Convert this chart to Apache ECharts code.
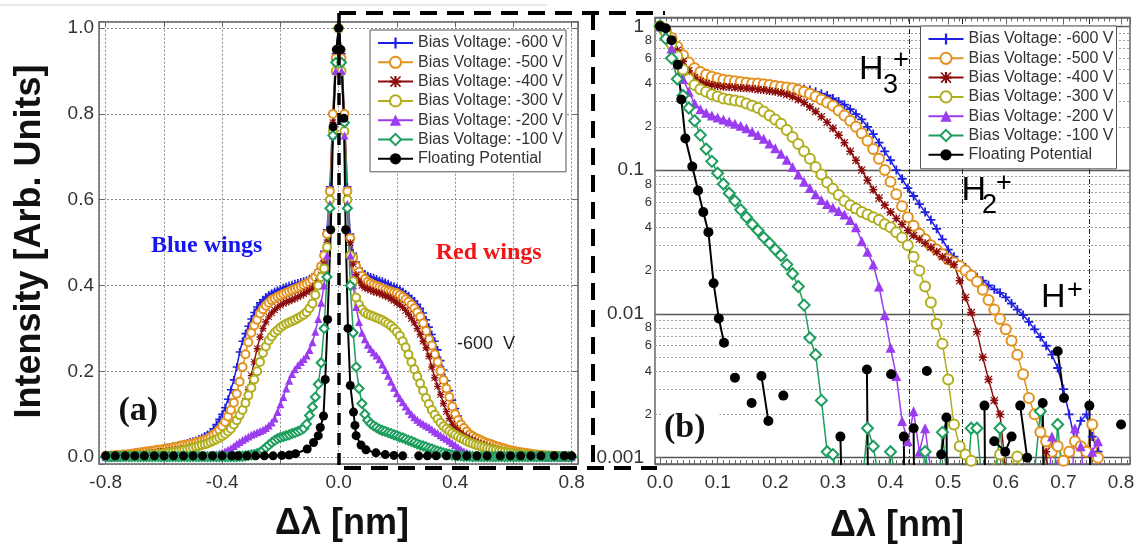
<!DOCTYPE html>
<html><head><meta charset="utf-8">
<script src="https://cdn.jsdelivr.net/npm/echarts@6/dist/echarts.min.js"></script>
<style>html,body{margin:0;padding:0;background:#fff}#c{width:1143px;height:549px}</style>
</head><body><div id="c"></div>
<script>
// ---------------- DATA ----------------
const seriesNames = ['Bias Voltage: -600 V','Bias Voltage: -500 V','Bias Voltage: -400 V','Bias Voltage: -300 V','Bias Voltage: -200 V','Bias Voltage: -100 V','Floating Potential'];

// panel (a): wavelength shift grid, nm
const xA = [
-0.80,-0.79,-0.78,-0.77,-0.76,-0.75,-0.74,-0.73,-0.72,-0.71,
-0.70,-0.69,-0.68,-0.67,-0.66,-0.65,-0.64,-0.63,-0.62,-0.61,
-0.60,-0.59,-0.58,-0.57,-0.56,-0.55,-0.54,-0.53,-0.52,-0.51,
-0.50,-0.49,-0.48,-0.47,-0.46,-0.45,-0.44,-0.43,-0.42,-0.41,
-0.40,-0.39,-0.38,-0.37,-0.36,-0.35,-0.34,-0.33,-0.32,-0.31,
-0.30,-0.29,-0.28,-0.27,-0.26,-0.25,-0.24,-0.23,-0.22,-0.21,
-0.20,-0.19,-0.18,-0.17,-0.16,-0.15,-0.14,-0.13,-0.12,-0.11,
-0.10,-0.09,-0.08,-0.07,-0.06,-0.05,-0.04,-0.03,-0.02,-0.01,
0,
0.01,0.02,0.03,0.04,0.05,0.06,0.07,0.08,0.09,0.10,
0.11,0.12,0.13,0.14,0.15,0.16,0.17,0.18,0.19,0.20,
0.21,0.22,0.23,0.24,0.25,0.26,0.27,0.28,0.29,0.30,
0.31,0.32,0.33,0.34,0.35,0.36,0.37,0.38,0.39,0.40,
0.41,0.42,0.43,0.44,0.45,0.46,0.47,0.48,0.49,0.50,
0.51,0.52,0.53,0.54,0.55,0.56,0.57,0.58,0.59,0.60,
0.61,0.62,0.63,0.64,0.65,0.66,0.67,0.68,0.69,0.70,
0.71,0.72,0.73,0.74,0.75,0.76,0.77,0.78,0.79,0.80];

const aV600 = [
0.004,0.004,0.005,0.005,0.006,0.006,0.007,0.007,0.008,0.009,
0.010,0.011,0.012,0.013,0.014,0.015,0.016,0.017,0.018,0.019,
0.021,0.022,0.023,0.025,0.026,0.028,0.029,0.031,0.033,0.035,
0.037,0.039,0.042,0.045,0.049,0.053,0.058,0.066,0.076,0.088,
0.100,0.115,0.135,0.157,0.180,0.210,0.245,0.270,0.288,0.305,
0.322,0.337,0.350,0.360,0.367,0.373,0.378,0.382,0.386,0.389,
0.392,0.395,0.397,0.400,0.402,0.404,0.406,0.408,0.410,0.412,
0.416,0.420,0.427,0.435,0.450,0.480,0.530,0.630,0.800,0.940,
1.0,
0.94,0.80,0.63,0.52,0.475,0.455,0.44,0.432,0.427,0.423,
0.42,0.418,0.415,0.412,0.41,0.407,0.404,0.40,0.398,0.395,
0.391,0.386,0.381,0.376,0.37,0.364,0.356,0.347,0.336,0.32,
0.303,0.286,0.27,0.25,0.225,0.203,0.178,0.155,0.133,0.113,
0.096,0.082,0.071,0.062,0.054,0.048,0.043,0.039,0.035,0.032,
0.029,0.027,0.025,0.023,0.021,0.019,0.018,0.016,0.015,0.014,
0.013,0.012,0.011,0.010,0.009,0.008,0.007,0.007,0.006,0.006,
0.005,0.005,0.004,0.004,0.004,0.003,0.003,0.003,0.002,0.002];

const aV500 = [
0.003,0.003,0.004,0.004,0.005,0.005,0.006,0.006,0.007,0.008,
0.009,0.010,0.011,0.012,0.013,0.014,0.015,0.016,0.017,0.018,
0.019,0.020,0.021,0.022,0.024,0.025,0.027,0.028,0.029,0.031,
0.032,0.034,0.036,0.038,0.040,0.043,0.047,0.052,0.057,0.064,
0.072,0.082,0.095,0.110,0.127,0.148,0.176,0.210,0.240,0.268,
0.290,0.307,0.320,0.335,0.345,0.353,0.360,0.366,0.370,0.374,
0.377,0.380,0.383,0.386,0.389,0.392,0.395,0.398,0.401,0.404,
0.408,0.413,0.420,0.430,0.445,0.470,0.520,0.620,0.800,0.930,
1.0,
0.93,0.80,0.62,0.51,0.465,0.445,0.432,0.422,0.415,0.409,
0.405,0.402,0.399,0.396,0.393,0.39,0.388,0.386,0.384,0.382,
0.378,0.373,0.368,0.362,0.355,0.347,0.338,0.327,0.312,0.294,
0.275,0.26,0.24,0.222,0.201,0.18,0.16,0.14,0.118,0.10,
0.086,0.076,0.068,0.06,0.053,0.049,0.045,0.042,0.039,0.036,
0.033,0.031,0.028,0.026,0.024,0.022,0.02,0.018,0.016,0.015,
0.013,0.012,0.011,0.010,0.009,0.008,0.007,0.006,0.005,0.005,
0.004,0.004,0.003,0.003,0.003,0.002,0.002,0.002,0.002,0.001];

const aV400 = [
0.002,0.002,0.003,0.003,0.003,0.004,0.004,0.005,0.005,0.006,
0.006,0.007,0.007,0.008,0.009,0.009,0.010,0.011,0.012,0.013,
0.013,0.014,0.015,0.016,0.017,0.018,0.019,0.020,0.021,0.023,
0.024,0.026,0.027,0.029,0.031,0.033,0.036,0.039,0.042,0.046,
0.050,0.055,0.061,0.068,0.075,0.085,0.097,0.110,0.130,0.157,
0.190,0.222,0.253,0.280,0.300,0.315,0.327,0.336,0.343,0.349,
0.354,0.358,0.361,0.364,0.367,0.370,0.373,0.377,0.381,0.385,
0.389,0.394,0.400,0.410,0.425,0.450,0.500,0.600,0.780,0.920,
1.0,
0.92,0.78,0.60,0.50,0.45,0.425,0.41,0.40,0.395,0.392,
0.389,0.386,0.384,0.382,0.379,0.376,0.373,0.369,0.365,0.36,
0.355,0.349,0.342,0.333,0.323,0.313,0.30,0.286,0.27,0.255,
0.235,0.21,0.185,0.165,0.146,0.125,0.106,0.09,0.077,0.068,
0.061,0.055,0.05,0.046,0.042,0.039,0.036,0.033,0.03,0.028,
0.025,0.023,0.021,0.019,0.017,0.015,0.013,0.012,0.011,0.01,
0.009,0.008,0.007,0.006,0.006,0.005,0.005,0.004,0.004,0.003,
0.003,0.003,0.002,0.002,0.002,0.002,0.001,0.001,0.001,0.001];

const aV300 = [
0.001,0.001,0.001,0.002,0.002,0.002,0.002,0.003,0.003,0.003,
0.004,0.004,0.004,0.005,0.005,0.006,0.006,0.007,0.008,0.008,
0.009,0.010,0.011,0.012,0.013,0.014,0.015,0.017,0.018,0.020,
0.022,0.024,0.026,0.028,0.030,0.032,0.035,0.038,0.041,0.045,
0.049,0.054,0.060,0.066,0.076,0.086,0.098,0.110,0.126,0.144,
0.162,0.181,0.200,0.222,0.243,0.258,0.272,0.281,0.290,0.296,
0.302,0.307,0.311,0.314,0.317,0.320,0.324,0.328,0.332,0.338,
0.347,0.358,0.378,0.400,0.420,0.440,0.490,0.600,0.760,0.900,
1.0,
0.90,0.76,0.60,0.47,0.41,0.372,0.355,0.344,0.337,0.333,
0.33,0.328,0.325,0.322,0.319,0.315,0.311,0.306,0.30,0.292,
0.283,0.27,0.256,0.239,0.222,0.205,0.188,0.172,0.155,0.138,
0.124,0.11,0.099,0.089,0.08,0.072,0.066,0.061,0.056,0.052,
0.048,0.044,0.041,0.037,0.034,0.032,0.029,0.027,0.025,0.023,
0.021,0.019,0.017,0.016,0.014,0.013,0.012,0.011,0.01,0.009,
0.008,0.007,0.007,0.006,0.005,0.005,0.004,0.004,0.003,0.003,
0.003,0.002,0.002,0.002,0.002,0.001,0.001,0.001,0.001,0.001];

const aV200 = [
0,0,0,0,0,0.001,0.001,0.001,0.001,0.001,
0.001,0.001,0.001,0.001,0.001,0.001,0.001,0.001,0.001,0.001,
0.001,0.001,0.001,0.002,0.002,0.002,0.002,0.002,0.002,0.002,
0.003,0.003,0.003,0.003,0.004,0.004,0.005,0.006,0.007,0.009,
0.011,0.014,0.017,0.021,0.026,0.031,0.035,0.040,0.044,0.048,
0.052,0.055,0.058,0.061,0.064,0.068,0.074,0.081,0.090,0.105,
0.123,0.140,0.160,0.178,0.194,0.205,0.214,0.222,0.229,0.237,
0.250,0.268,0.292,0.322,0.360,0.400,0.470,0.590,0.750,0.900,
1.0,
0.90,0.75,0.59,0.47,0.40,0.35,0.315,0.29,0.275,0.262,
0.252,0.244,0.237,0.228,0.216,0.203,0.19,0.176,0.162,0.149,
0.138,0.128,0.118,0.108,0.10,0.093,0.087,0.082,0.078,0.074,
0.07,0.065,0.06,0.056,0.051,0.047,0.043,0.038,0.033,0.028,
0.023,0.018,0.014,0.011,0.008,0.006,0.005,0.004,0.003,0.003,
0.002,0.002,0.002,0.002,0.001,0.001,0.001,0.001,0.001,0.001,
0.001,0.001,0.001,0.001,0.001,0.001,0.001,0.001,0.001,0.001,
0,0,0,0,0,0,0,0,0,0];

const aV100 = [
0.001,0.001,0.001,0.001,0.001,0.001,0.001,0.001,0.001,0.001,
0.001,0.001,0.001,0.001,0.001,0.001,0.001,0.001,0.001,0.001,
0.001,0.001,0.001,0.001,0.001,0.001,0.001,0.001,0.001,0.001,
0.001,0.001,0.001,0.001,0.001,0.001,0.001,0.001,0.001,0.001,
0.001,0.001,0.001,0.001,0.001,0.001,0.002,0.002,0.003,0.004,
0.005,0.006,0.008,0.011,0.016,0.022,0.028,0.034,0.039,0.043,
0.046,0.048,0.050,0.052,0.055,0.057,0.060,0.063,0.067,0.077,
0.097,0.117,0.140,0.170,0.220,0.300,0.420,0.580,0.750,0.920,
1.0,
0.92,0.78,0.58,0.40,0.29,0.21,0.16,0.125,0.10,0.086,
0.078,0.073,0.069,0.065,0.062,0.06,0.057,0.055,0.052,0.05,
0.047,0.045,0.042,0.039,0.037,0.034,0.031,0.028,0.026,0.024,
0.021,0.019,0.016,0.014,0.012,0.01,0.008,0.007,0.005,0.004,
0.003,0.003,0.002,0.002,0.002,0.001,0.001,0.001,0.001,0.001,
0.001,0.001,0.001,0.001,0.001,0.001,0.001,0.001,0.001,0.001,
0.001,0.001,0.001,0.001,0.001,0.001,0.001,0.001,0.001,0.001,
0.001,0.001,0.001,0.001,0.001,0.001,0.001,0.001,0.001,0.001];

const xFloatA = [-0.80,-0.767,-0.733,-0.70,-0.667,-0.633,-0.60,-0.567,-0.533,-0.50,-0.467,-0.433,-0.40,-0.367,-0.345,-0.33,-0.315,-0.285,-0.255,-0.225,-0.195,-0.17,-0.148,-0.108,-0.086,-0.07,-0.063,-0.052,-0.046,-0.038,-0.027,-0.019,-0.008,0,0.008,0.018,0.024,0.032,0.04,0.051,0.056,0.06,0.077,0.094,0.128,0.16,0.19,0.22,0.25,0.275,0.305,0.335,0.37,0.405,0.44,0.475,0.51,0.53,0.555,0.59,0.625,0.66,0.695,0.715,0.74,0.775,0.80];
const yFloatA = [0.003,0.003,0.003,0.003,0.003,0.003,0.003,0.003,0.003,0.003,0.003,0.003,0.003,0.003,0.003,null,0.003,0.003,0.003,0.003,0.004,0.005,0.008,0.019,0.034,0.05,0.069,0.096,0.181,0.321,0.53,0.77,0.95,1.0,0.95,0.79,0.53,0.30,0.167,0.105,0.074,0.05,0.028,0.017,0.01,0.006,0.004,0.003,null,0.003,0.003,0.003,0.003,0.003,0.003,0.003,0.003,null,0.003,0.003,0.003,0.003,0.003,null,0.003,0.003,0.003];

// panel (b): red wing on log scale
const xB = [0,
0.01,0.02,0.03,0.04,0.05,0.06,0.07,0.08,0.09,0.10,
0.11,0.12,0.13,0.14,0.15,0.16,0.17,0.18,0.19,0.20,
0.21,0.22,0.23,0.24,0.25,0.26,0.27,0.28,0.29,0.30,
0.31,0.32,0.33,0.34,0.35,0.36,0.37,0.38,0.39,0.40,
0.41,0.42,0.43,0.44,0.45,0.46,0.47,0.48,0.49,0.50,
0.51,0.52,0.53,0.54,0.55,0.56,0.57,0.58,0.59,0.60,
0.61,0.62,0.63,0.64,0.65,0.66,0.67,0.68,0.69,0.70,
0.71,0.72,0.73,0.74,0.75,0.76,0.77,0.78,0.79,0.80];

const bV600 = [
1.0,0.93,0.84,0.73,0.63,0.55,0.50,0.47,0.45,0.44,
0.43,0.425,0.42,0.415,0.41,0.41,0.405,0.40,0.40,0.395,
0.39,0.385,0.38,0.375,0.37,0.365,0.36,0.35,0.34,0.33,
0.315,0.30,0.285,0.265,0.245,0.225,0.20,0.178,0.155,0.135,
0.117,0.10,0.087,0.075,0.066,0.058,0.051,0.045,0.039,0.033,
0.028,0.025,0.022,0.021,0.019,0.018,0.017,0.0158,0.0148,0.014,
0.013,0.0118,0.0107,0.0098,0.0088,0.0078,0.0069,0.006,0.0052,0.0042,
0.003,0.002,0.0013,0.0018,0.002,0.0014,0.0011,0.0006,0.0004,0.0003,
0.0002];

const bV500 = [
1.0,0.93,0.83,0.72,0.63,0.56,0.51,0.48,0.46,0.445,
0.435,0.425,0.42,0.415,0.41,0.405,0.40,0.40,0.395,0.39,
0.385,0.38,0.375,0.37,0.36,0.35,0.34,0.325,0.31,0.295,
0.28,0.26,0.24,0.22,0.20,0.18,0.16,0.14,0.12,0.10,
0.083,0.068,0.056,0.047,0.041,0.036,0.033,0.030,0.028,0.026,
0.024,0.0228,0.0215,0.020,0.0185,0.0168,0.0147,0.0125,0.0107,0.0092,
0.0078,0.0065,0.0052,0.0038,0.0026,0.002,0.0015,0.0013,0.0011,0.0012,
0.00095,0.0011,0.0013,0.0012,0.0011,0.0017,0.001,0.0005,0.0003,0.0002,
0.0002];

const bV400 = [
1.0,0.92,0.80,0.68,0.57,0.49,0.44,0.415,0.40,0.39,
0.385,0.38,0.378,0.375,0.372,0.37,0.367,0.363,0.36,0.355,
0.35,0.343,0.335,0.325,0.31,0.295,0.275,0.255,0.235,0.215,
0.195,0.175,0.155,0.135,0.117,0.10,0.085,0.073,0.064,0.057,
0.051,0.046,0.042,0.038,0.035,0.033,0.031,0.029,0.027,0.025,
0.0235,0.022,0.017,0.013,0.0102,0.0075,0.005,0.0035,0.0025,0.002,
0.0008,0.0005,0.0004,0.0004,0.0003,0.0004,0.0006,0.0011,0.0004,0.0003,
0.0003,0.0003,0.0003,0.0003,0.0003,0.0003,0.0003,0.0003,0.0003,0.0003,
0.0003];

const bV300 = [
1.0,0.90,0.76,0.62,0.50,0.43,0.39,0.365,0.35,0.335,
0.325,0.315,0.31,0.305,0.30,0.29,0.28,0.27,0.255,0.24,
0.225,0.21,0.19,0.17,0.152,0.135,0.12,0.105,0.093,0.082,
0.074,0.067,0.061,0.057,0.054,0.051,0.049,0.047,0.045,0.042,
0.04,0.037,0.034,0.03,0.025,0.02,0.0155,0.012,0.0085,0.0062,
0.0035,0.0017,0.0012,0.00105,0.00095,0.0008,0.0006,0.0007,0.0009,0.00105,
0.0008,0.0009,0.00102,0.0006,0.0003,0.0003,0.0003,0.0003,0.0003,0.0003,
0.0003,0.0003,0.0003,0.0003,0.0003,0.0003,0.0003,0.0003,0.0003,0.0003,
0.0003];

const bV200 = [
1.0,0.88,0.70,0.55,0.43,0.35,0.29,0.265,0.25,0.24,
0.232,0.225,0.218,0.21,0.203,0.195,0.185,0.175,0.165,0.153,
0.142,0.13,0.118,0.105,0.093,0.083,0.075,0.068,0.062,0.058,
0.055,0.052,0.049,0.045,0.04,0.032,0.027,0.022,0.0155,0.0098,
0.0058,0.0037,0.0018,0.0013,0.0021,0.0011,0.0016,0.0008,0.0005,0.0003,
0.0003,0.0003,0.0003,0.0003,0.0003,0.0003,0.0003,0.0003,0.0003,0.0003,
0.0003,0.0003,0.0003,0.0003,0.0003,0.0003,0.0003,0.0003,0.0014,0.0008,
0.0003,0.0003,0.0016,0.0012,0.0005,0.0011,0.0013,0.0005,0.0003,0.0003,
0.0003];

const bV100 = [
1.0,0.82,0.60,0.43,0.33,0.27,0.22,0.175,0.14,0.115,
0.095,0.08,0.069,0.061,0.053,0.047,0.042,0.038,0.034,0.031,
0.028,0.0255,0.022,0.019,0.0155,0.0115,0.0068,0.0052,0.0025,0.0011,
0.00105,0.0006,0.0004,0.0003,0.0004,0.0006,0.0016,0.0012,0.0007,0.0005,
0.0011,0.0007,0.0004,0.0003,0.0004,0.0005,0.0011,0.0006,0.0004,0.0015,
0.0006,0.0004,0.0003,0.0004,0.0016,0.0016,0.0006,0.0004,0.0006,0.0016,
0.0006,0.0004,0.0003,0.0004,0.0006,0.0008,0.0021,0.0006,0.0004,0.0017,
0.0006,0.0003,0.0003,0.0003,0.0003,0.0003,0.0003,0.0003,0.0003,0.0003,
0.0003];

const xFloatB = [0,0.01,0.02,0.031,0.037,0.044,0.056,0.066,0.075,0.084,0.093,0.102,0.111,0.12,0.13,0.14,0.159,0.165,0.176,0.188,0.2,0.214,0.22,0.313,0.318,0.33,0.359,0.362,0.38,0.401,0.41,0.423,0.425,0.43,0.44,0.442,0.45,0.463,0.47,0.488,0.497,0.499,0.53,0.563,0.565,0.572,0.58,0.599,0.61,0.615,0.625,0.637,0.645,0.664,0.667,0.68,0.69,0.701,0.71,0.745,0.748,0.76,0.80];
const yFloatB = [1.0,0.97,0.80,0.54,0.31,0.166,0.106,0.072,0.051,0.037,0.0163,0.0093,0.0063,null,0.0036,null,0.0024,null,0.0037,0.0018,null,0.0027,null,0.0014,0.0002,null,0.0041,0.0002,null,0.0038,null,0.0014,0.0002,null,0.0016,0.0002,null,0.004,null,0.00105,0.0019,0.0002,null,0.0023,0.0002,null,0.0013,0.0011,0.0014,null,0.0023,0.001,null,0.0024,0.0002,null,0.0055,0.0026,null,0.0023,0.0002,null,0.0017];

// log minor grid values and their labels; ion-energy marker positions (nm)
const minorLogValues = [0.002,0.003,0.004,0.005,0.006,0.007,0.008,0.009,0.02,0.03,0.04,0.05,0.06,0.07,0.08,0.09,0.2,0.3,0.4,0.5,0.6,0.7,0.8,0.9];
const minorLogLabels = ['2','','4','','6','','8','','2','','4','','6','','8','','2','','4','','6','','8',''];
const ionLines = [0.433, 0.524, 0.745];

// ---------------- CHART ----------------
const aSets = [aV600, aV500, aV400, aV300, aV200, aV100];
const bSets = [bV600, bV500, bV400, bV300, bV200, bV100];
aSets.forEach((a, i) => { if (a.length !== xA.length) throw new Error('aSet ' + i + ' length ' + a.length); });
bSets.forEach((b, i) => { if (b.length !== xB.length) throw new Error('bSet ' + i + ' length ' + b.length); });
if (xFloatA.length !== yFloatA.length) throw new Error('floatA ' + xFloatA.length + ' ' + yFloatA.length);
if (xFloatB.length !== yFloatB.length) throw new Error('floatB ' + xFloatB.length + ' ' + yFloatB.length);

const FONT = 'Liberation Sans, Arial, sans-serif';
const SERIF = 'Liberation Serif, Times New Roman, serif';
const colors = ['#1f1fe0', '#e3921f', '#8c0c0c', '#b0ae1e', '#9a3cf0', '#1e9e5e', '#000000'];
const PLUS = 'path://M4,0h2v4h4v2h-4v4h-2v-4h-4v-2h4z';
const STAR = 'path://M4,0h2v4h4v2h-4v4h-2v-4h-4v-2h4z M1,0L5,4L9,0L10,1L6,5L10,9L9,10L5,6L1,10L0,9L4,5L0,1Z';
const symbols = [PLUS, 'emptyCircle', STAR, 'emptyCircle', 'triangle', 'emptyDiamond', 'circle'];
const borderW = [0, 1.3, 0, 1.3, 0, 1.3, 0];
const symA = [8, 8, 7, 8, 8, 9, 9];
const symB = [9, 10, 8, 10, 10, 11, 10];

function mk(i, xs, ys, xi, yi, size) {
  return {
    name: seriesNames[i], type: 'line', xAxisIndex: xi, yAxisIndex: yi,
    data: xs.map((x, k) => [x, ys[k]]),
    symbol: symbols[i], symbolSize: size, showSymbol: true, showAllSymbol: true,
    color: colors[i], connectNulls: false, clip: true,
    lineStyle: { color: colors[i], width: i === 6 ? 2 : 1.5 },
    itemStyle: { color: colors[i], borderColor: colors[i], borderWidth: borderW[i] },
    silent: true, animation: false, emphasis: { disabled: true }
  };
}
const series = [];
for (let i = 0; i < 6; i++) series.push(mk(i, xA, aSets[i], 0, 0, symA[i]));
series.push(mk(6, xFloatA, yFloatA, 0, 0, symA[6]));
// guide lines for (b)
series.push({
  type: 'line', name: 'minorGrid', xAxisIndex: 2, yAxisIndex: 2, data: [], z: 1, silent: true, clip: false, animation: false,
  markLine: {
    silent: true, symbol: ['none', 'none'], animation: false, precision: 8, z: 1,
    lineStyle: { color: '#a0a0a0', type: [2, 2], width: 1 },
    data: minorLogValues.map((v, k) => ({
      yAxis: v,
      label: minorLogLabels[k] ? { show: true, position: 'start', formatter: minorLogLabels[k], fontSize: 13, color: '#333', fontFamily: FONT, distance: 3 } : { show: false }
    }))
  }
});
series.push({
  type: 'line', name: 'ionLines', xAxisIndex: 2, yAxisIndex: 2, data: [], z: 1, silent: true, clip: false, animation: false,
  markLine: {
    silent: true, symbol: ['none', 'none'], animation: false, precision: 8, z: 1,
    lineStyle: { color: '#222', type: [5, 2, 1, 2], width: 1 },
    label: { show: false },
    data: ionLines.map(v => ({ xAxis: v }))
  }
});
for (let i = 0; i < 6; i++) series.push(mk(i, xB, bSets[i], 2, 2, symB[i]));
series.push(mk(6, xFloatB, yFloatB, 2, 2, symB[6]));

function isMult(v, step) { const r = v / step; return Math.abs(r - Math.round(r)) < 1e-6; }
function fixed1(v) { return Math.abs(v) < 1e-9 ? '0.0' : v.toFixed(1); }

const frameLine = { show: true, onZero: false, lineStyle: { color: '#666', width: 1.5 } };
const tickIn = (len) => ({ show: true, inside: true, length: len, lineStyle: { color: '#666', width: 1 } });
const labelStyle = { fontSize: 19, color: '#333', fontFamily: FONT };
const dotted = { show: true, lineStyle: { color: '#8a8a8a', type: [2, 2], width: 1 } };

const legendBase = {
  orient: 'vertical', itemWidth: 35, itemHeight: 14, itemGap: 3.3, z: 10,
  backgroundColor: '#fff', borderColor: '#555', borderWidth: 1, borderRadius: 0,
  textStyle: { fontSize: 16, color: '#333', fontFamily: FONT, lineHeight: 16 },
  selectedMode: false, data: seriesNames
};

const dash = { stroke: '#000', lineWidth: 4, lineDash: [17, 10] };
const txt = (x, y, text, o) => ({ type: 'text', x, y, z: 100, style: Object.assign({ text, fill: '#111', textAlign: 'center', textVerticalAlign: 'middle', align: 'center', verticalAlign: 'middle' }, o) });

const option = {
  backgroundColor: '#fff',
  animation: false,
  grid: [
    { left: 99, top: 21.7, width: 479, height: 442.3, outerBoundsMode: 'none', containLabel: false },
    { left: 655, top: 17.5, width: 475, height: 446.5, outerBoundsMode: 'none', containLabel: false }
  ],
  xAxis: [
    { gridIndex: 0, type: 'value', min: -0.823, max: 0.822, splitNumber: 8, position: 'bottom',
      axisLine: frameLine, axisTick: tickIn(5),
      axisLabel: Object.assign({ margin: 9, formatter: v => isMult(v, 0.4) ? fixed1(v) : '' }, labelStyle),
      splitLine: dotted },
    { gridIndex: 0, type: 'value', min: -0.823, max: 0.822, splitNumber: 8, position: 'top',
      axisLine: frameLine, axisTick: tickIn(5), axisLabel: { show: false }, splitLine: { show: false } },
    { gridIndex: 1, type: 'value', min: -0.0087, max: 0.8155, splitNumber: 8, position: 'bottom',
      axisLine: frameLine, axisTick: tickIn(7),
      minorTick: { show: true, splitNumber: 10, length: 4, lineStyle: { color: '#666' } },
      axisLabel: Object.assign({ margin: 9, formatter: v => isMult(v, 0.1) ? fixed1(v) : '' }, labelStyle),
      splitLine: { show: false } },
    { gridIndex: 1, type: 'value', min: -0.0087, max: 0.8155, splitNumber: 8, position: 'top',
      axisLine: frameLine, axisTick: tickIn(7),
      minorTick: { show: true, splitNumber: 10, length: 4, lineStyle: { color: '#666' } },
      axisLabel: { show: false }, splitLine: { show: false } }
  ],
  yAxis: [
    { gridIndex: 0, type: 'value', min: -0.016, max: 1.015, splitNumber: 5, position: 'left',
      axisLine: frameLine, axisTick: tickIn(5),
      axisLabel: Object.assign({ margin: 5, formatter: v => isMult(v, 0.2) ? fixed1(v) : '' }, labelStyle),
      splitLine: dotted },
    { gridIndex: 0, type: 'value', min: -0.016, max: 1.015, splitNumber: 5, position: 'right',
      axisLine: frameLine, axisTick: tickIn(5), axisLabel: { show: false }, splitLine: { show: false } },
    { gridIndex: 1, type: 'log', logBase: 10, min: 0.000903, max: 1.151, position: 'left',
      axisLine: frameLine, axisTick: tickIn(7),
      axisLabel: Object.assign({ margin: 11, formatter: v => { const l = Math.log10(v); return Math.abs(l - Math.round(l)) < 1e-6 ? String(+v.toPrecision(3)) : ''; } }, labelStyle),
      splitLine: { show: true, lineStyle: { color: '#555', width: 1.4 } } },
    { gridIndex: 1, type: 'log', logBase: 10, min: 0.000903, max: 1.151, position: 'right',
      axisLine: frameLine, axisTick: tickIn(7), axisLabel: { show: false }, splitLine: { show: false } }
  ],
  legend: [
    Object.assign({ left: 370, top: 30, padding: [5, 3, 5, 7] }, legendBase),
    Object.assign({ left: 920.5, top: 26, padding: [5, 3, 6, 7] }, legendBase)
  ],
  series: series,
  graphic: { elements: [
    { type: 'line', z: 100, shape: { x1: 0, y1: 5, x2: 547, y2: 5 }, style: { stroke: '#cfcfcf', lineWidth: 1 } },
    { type: 'line', z: 100, shape: { x1: 339, y1: 13, x2: 665, y2: 13 }, style: dash },
    { type: 'line', z: 100, shape: { x1: 339, y1: 13, x2: 339, y2: 468 }, style: { stroke: '#000', lineWidth: 3.5, lineDash: [12, 8] } },
    { type: 'line', z: 100, shape: { x1: 344, y1: 468, x2: 657, y2: 468 }, style: dash },
    { type: 'line', z: 100, shape: { x1: 593, y1: 13, x2: 593, y2: 468 }, style: dash },
    Object.assign(txt(30.5, 241.5, 'Intensity [Arb. Units]', { font: 'bold 36px ' + FONT }), { rotation: Math.PI / 2 }),
    txt(342, 524, 'Δλ [nm]', { font: 'bold 36px ' + FONT }),
    txt(897, 526, 'Δλ [nm]', { font: 'bold 36px ' + FONT }),
    txt(206.7, 246, 'Blue wings', { font: 'bold 24px ' + SERIF, fill: '#1515f0' }),
    txt(488.7, 253, 'Red wings', { font: 'bold 24px ' + SERIF, fill: '#f21515' }),
    txt(457, 344, '-600  V', { font: '18px ' + FONT, fill: '#222', textAlign: 'left', align: 'left' }),
    txt(138.3, 411.7, '(a)', { font: 'bold 34px ' + SERIF }),
    txt(690.7, 428.3, '(b)', { font: 'bold 34px ' + SERIF, backgroundColor: '#fff', padding: [2, 14, 2, 2] }),
    txt(859, 70, 'H', { font: '34px ' + FONT, textAlign: 'left', align: 'left', fill: '#000' }),
    txt(883, 85.5, '3', { font: '27px ' + FONT, textAlign: 'left', align: 'left', fill: '#000' }),
    txt(901, 61, '+', { font: '27px ' + FONT, fill: '#000' }),
    txt(961.5, 191, 'H', { font: '34px ' + FONT, textAlign: 'left', align: 'left', fill: '#000' }),
    txt(982, 205.5, '2', { font: '27px ' + FONT, textAlign: 'left', align: 'left', fill: '#000' }),
    txt(1004, 183.5, '+', { font: '27px ' + FONT, fill: '#000' }),
    txt(1041, 297.5, 'H', { font: '34px ' + FONT, textAlign: 'left', align: 'left', fill: '#000' }),
    txt(1075, 291, '+', { font: '27px ' + FONT, fill: '#000' })
  ] }
};

const chart = echarts.init(document.getElementById('c'), null, { renderer: 'canvas' });
chart.setOption(option);
</script>
</body></html>
